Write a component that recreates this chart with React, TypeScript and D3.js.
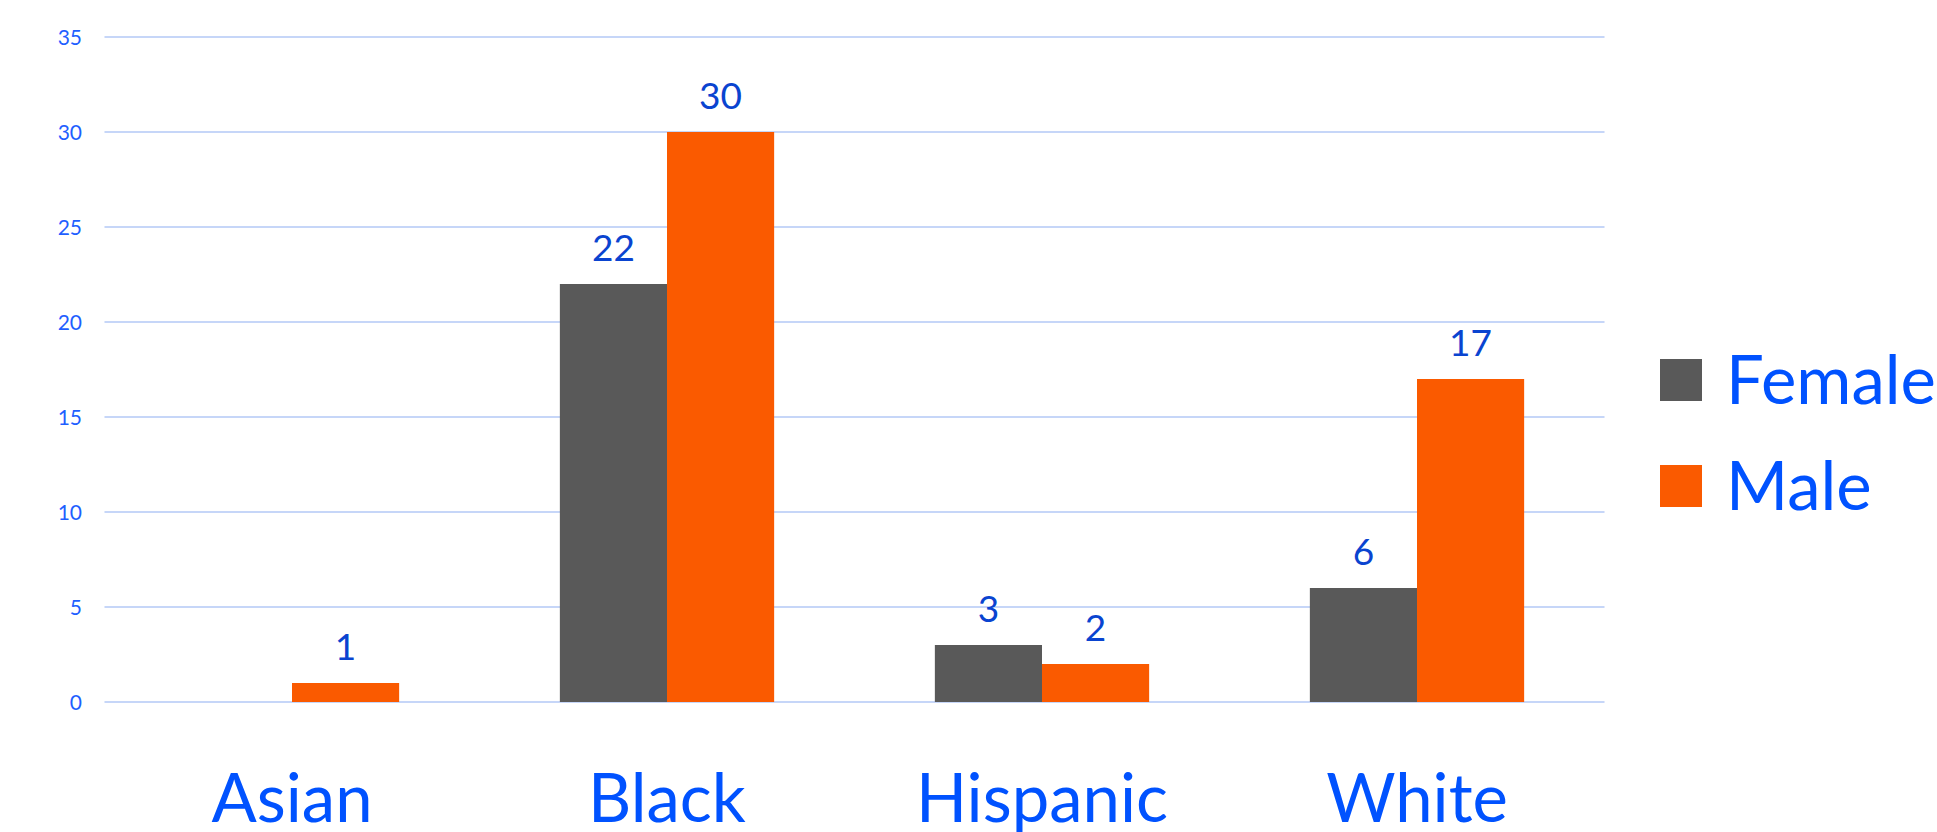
import React from "react";
import * as d3 from "d3";

const categories = ["Asian", "Black", "Hispanic", "White"];
const seriesNames = ["Female", "Male"];
const femaleValues = [0, 22, 3, 6];
const maleValues = [1, 30, 2, 17];
const yTicks = [0, 5, 10, 15, 20, 25, 30, 35];

const WIDTH = 1937;
const HEIGHT = 832;
const plot = { left: 104.5, right: 1604.5, top: 37, bottom: 702 };
const colors = { Female: "#595959", Male: "#fa5a00" };
const FONT = "Lato, 'Open Sans', sans-serif";

export default function App() {
  const x = d3
    .scaleBand<string>()
    .domain(categories)
    .range([plot.left, plot.right])
    .paddingInner(0)
    .paddingOuter(0);
  const y = d3.scaleLinear().domain([0, 35]).range([plot.bottom, plot.top]);

  // two bars per category, gap width 150% of a bar
  const barW = x.bandwidth() / 3.5;
  const series = [
    { name: "Female", values: femaleValues },
    { name: "Male", values: maleValues },
  ];

  return (
    <svg
      width={WIDTH}
      height={HEIGHT}
      style={{ position: "absolute", left: 0, top: 0, display: "block", background: "#fff" }}
    >
      {/* gridlines and y tick labels */}
      {yTicks.map((t) => (
        <g key={t}>
          <line
            x1={plot.left}
            x2={plot.right}
            y1={y(t)}
            y2={y(t)}
            stroke="#c6d6f8"
            strokeWidth={2}
          />
          <text
            x={82}
            y={y(t)}
            dy="0.36em"
            textAnchor="end"
            fontFamily={FONT}
            fontSize={21}
            fill="#1f5fff"
          >
            {t}
          </text>
        </g>
      ))}

      {/* bars with value labels */}
      {series.map((s, si) =>
        s.values.map((v, i) => {
          if (v === 0) return null;
          const cx = (x(categories[i]) as number) + x.bandwidth() / 2;
          const bx = cx - barW + si * barW;
          return (
            <g key={s.name + i}>
              <rect
                x={bx}
                y={y(v)}
                width={barW}
                height={y(0) - y(v)}
                fill={colors[s.name as keyof typeof colors]}
              />
              <text
                x={bx + barW / 2}
                y={y(v) - 23}
                textAnchor="middle"
                fontFamily={FONT}
                fontSize={37}
                fill="#0a44d0"
              >
                {v}
              </text>
            </g>
          );
        })
      )}

      {/* category labels */}
      {categories.map((c) => (
        <text
          key={c}
          x={(x(c) as number) + x.bandwidth() / 2}
          y={822}
          textAnchor="middle"
          fontFamily={FONT}
          fontSize={67}
          fill="#0052ff"
        >
          {c}
        </text>
      ))}

      {/* legend */}
      {seriesNames.map((n, i) => (
        <g key={n} transform={`translate(1660, ${359 + i * 106})`}>
          <rect width={42} height={42} fill={colors[n as keyof typeof colors]} />
          <text x={66} y={45} fontFamily={FONT} fontSize={67} fill="#0052ff">
            {n}
          </text>
        </g>
      ))}
    </svg>
  );
}
